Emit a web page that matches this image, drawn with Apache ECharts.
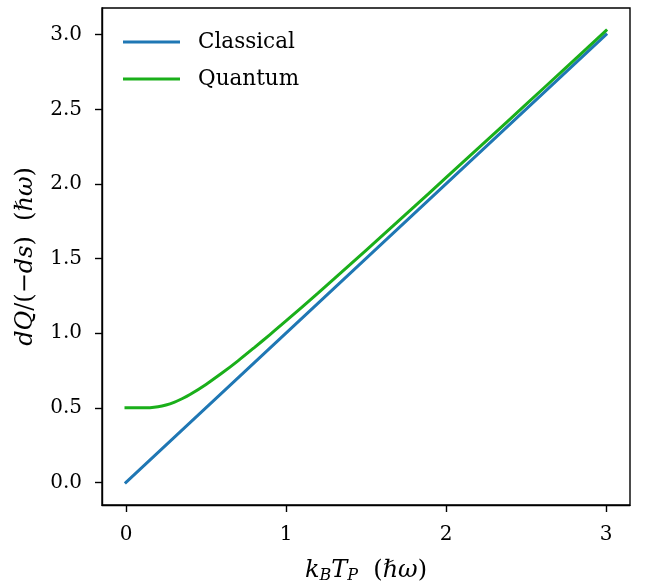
<!DOCTYPE html>
<html>
<head>
<meta charset="utf-8">
<script src="https://cdn.jsdelivr.net/npm/echarts@6/dist/echarts.min.js"></script>
<style>
  html, body { margin: 0; padding: 0; background: #fff; }
  #chart { width: 646px; height: 587px; }
</style>
</head>
<body>
<div id="chart"></div>
<script>
// Heat per unit entropy drop versus bath temperature
const xTicks = [0, 1, 2, 3];
const yTicks = [0, 0.5, 1.0, 1.5, 2.0, 2.5, 3.0];

const classicalX = [0, 3];
const classicalY = [0, 3];

const quantumX = [0, 0.05, 0.1, 0.15, 0.2, 0.25, 0.3, 0.35, 0.4, 0.5, 0.6, 0.7, 0.8, 0.9, 1.0,
                  1.2, 1.4, 1.6, 1.8, 2.0, 2.25, 2.5, 2.75, 3.0];
const quantumY = [0.5, 0.5, 0.5, 0.501, 0.507, 0.519, 0.537, 0.561, 0.589, 0.657, 0.733, 0.815,
                  0.902, 0.991, 1.082, 1.269, 1.459, 1.652, 1.846, 2.042, 2.287, 2.533, 2.780, 3.028];

const pairs = (xs, ys) => xs.map((x, i) => [x, ys[i]]);

const serif = 'DejaVu Serif';
const tickFont = { fontFamily: serif, fontSize: 20, color: '#000' };

const chart = echarts.init(document.getElementById('chart'), null, { renderer: 'canvas' });
chart.setOption({
  animation: false,
  backgroundColor: '#fff',
  grid: {
    left: 102, right: 16, top: 8, bottom: 82,
    outerBoundsMode: 'none', containLabel: false,
    show: true, borderColor: '#000', borderWidth: 1.4, backgroundColor: 'transparent'
  },
  legend: {
    left: 123, top: 30, orient: 'vertical',
    padding: 0, itemGap: 13,
    itemWidth: 57, itemHeight: 3, icon: 'rect',
    textStyle: { fontFamily: serif, fontSize: 21.5, color: '#000', lineHeight: 24, padding: [0, 0, 0, 13] },
    data: ['Classical', 'Quantum']
  },
  xAxis: {
    type: 'value', min: -0.15, max: 3.15,
    name: '{i|k}{s|B}{i|T}{s|P}{n|  (}{i|ℏω}{n|)}',
    nameLocation: 'middle', nameGap: 53,
    nameTextStyle: {
      rich: {
        i: { fontFamily: serif, fontStyle: 'italic', fontSize: 24, color: '#000', lineHeight: 26, verticalAlign: 'middle' },
        n: { fontFamily: serif, fontSize: 24, color: '#000', lineHeight: 26, verticalAlign: 'middle' },
        s: { fontFamily: serif, fontStyle: 'italic', fontSize: 16, color: '#000', lineHeight: 26, verticalAlign: 'bottom' }
      }
    },
    axisLine: { show: true, onZero: false, lineStyle: { color: '#000', width: 1.4 } },
    axisTick: { show: true, inside: false, length: 7, lineStyle: { color: '#000', width: 1.4 }, customValues: xTicks },
    axisLabel: { ...tickFont, margin: 20, customValues: xTicks, formatter: v => String(v) },
    splitLine: { show: false }
  },
  yAxis: {
    type: 'value', min: -0.151, max: 3.179,
    name: '{i|dQ}{n|/(−}{i|ds}{n|)  (}{i|ℏω}{n|)}',
    nameLocation: 'middle', nameGap: 64,
    nameTextStyle: {
      rich: {
        i: { fontFamily: serif, fontStyle: 'italic', fontSize: 24, color: '#000' },
        n: { fontFamily: serif, fontSize: 24, color: '#000' }
      }
    },
    axisLine: { show: true, onZero: false, lineStyle: { color: '#000', width: 1.4 } },
    axisTick: { show: true, inside: false, length: 7, lineStyle: { color: '#000', width: 1.4 }, customValues: yTicks },
    axisLabel: { ...tickFont, margin: 20, customValues: yTicks, formatter: v => v.toFixed(1) },
    splitLine: { show: false }
  },
  series: [
    {
      name: 'Classical', type: 'line', data: pairs(classicalX, classicalY),
      showSymbol: false, symbol: 'none', color: '#1f77b4',
      lineStyle: { width: 3, color: '#1f77b4', cap: 'square' }
    },
    {
      name: 'Quantum', type: 'line', data: pairs(quantumX, quantumY),
      showSymbol: false, symbol: 'none', smooth: 0.3, color: '#1aaf1a',
      lineStyle: { width: 3, color: '#1aaf1a', cap: 'square' }
    }
  ]
});
</script>
</body>
</html>
